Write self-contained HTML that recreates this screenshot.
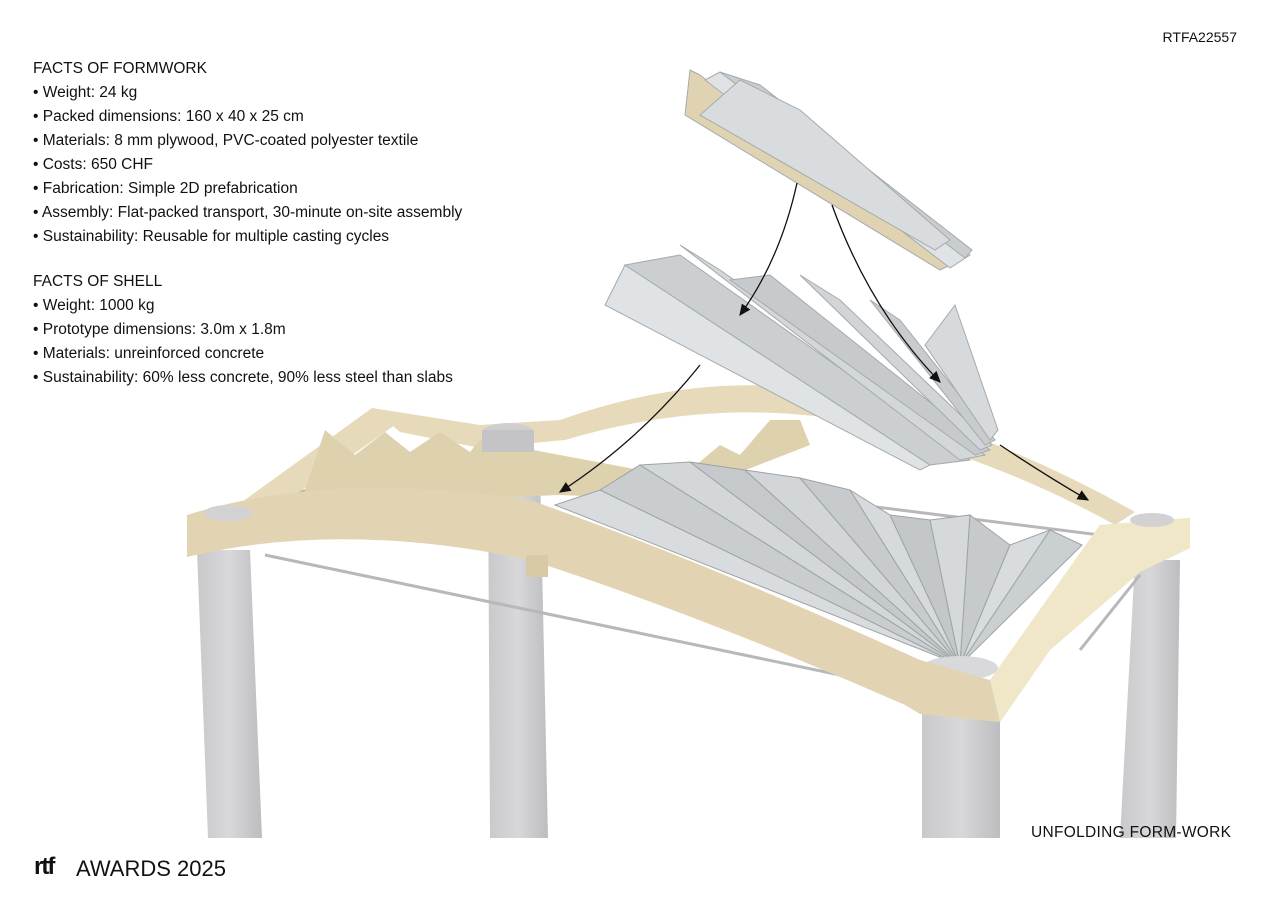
<!DOCTYPE html>
<html><head><meta charset="utf-8"><style>
body{margin:0;width:1273px;height:900px;background:#fff;overflow:hidden;position:relative;font-family:"Liberation Sans",sans-serif;color:#111}
.t{position:absolute;left:33px;font-size:15.5px;line-height:24px}
</style></head><body>
<svg width="1273" height="900" style="position:absolute;left:0;top:0">
<defs>
<linearGradient id="col" x1="0" x2="1"><stop offset="0" stop-color="#c9c9cb"/><stop offset="0.5" stop-color="#d8d8da"/><stop offset="1" stop-color="#bdbdc0"/></linearGradient>
<marker id="ah" markerWidth="10" markerHeight="10" refX="8" refY="5" orient="auto"><path d="M0,1 L9,5 L0,9 z" fill="#111"/></marker>
</defs>
<!-- columns -->
<polygon points="197,550 250,550 262,838 208,838" fill="url(#col)"/>
<polygon points="488,470 540,470 548,838 490,838" fill="url(#col)"/>
<polygon points="922,700 1000,700 1000,838 922,838" fill="url(#col)"/>
<polygon points="1135,560 1180,560 1176,838 1120,838" fill="url(#col)"/>
<!-- rods -->
<g stroke="#b8b8bb" stroke-width="3">
<line x1="265" y1="555" x2="840" y2="675"/><line x1="255" y1="505" x2="430" y2="455"/>
<line x1="820" y1="500" x2="1100" y2="535"/><line x1="1080" y1="650" x2="1140" y2="575"/>
</g>
<!-- left side beam -->
<polygon points="228,512 372,408 405,418 262,518" fill="#e6dabb"/>
<!-- back beam -->
<path d="M372,408 L480,425 L560,420 Q700,370 830,392 Q990,430 1135,512 L1115,525 Q990,455 830,418 Q700,400 565,440 L480,448 L400,432 Z" fill="#e6dabb"/>
<polygon points="300,505 325,430 355,455 385,432 410,452 440,432 470,452 480,440 560,455 640,470 680,500 560,495" fill="#ded1ae"/>
<polygon points="690,470 720,445 740,455 770,420 800,420 810,445 720,480" fill="#ded1ae"/>
<ellipse cx="508" cy="433" rx="26" ry="10" fill="#cfcfd1"/>
<rect x="482" y="430" width="52" height="22" fill="#c4c4c6"/>
<!-- fan shell -->
<g stroke="#9ea3a6" stroke-width="1">
<polygon points="555,505 600,490 960,665" fill="#d8dcde"/>
<polygon points="600,490 640,465 960,665" fill="#c9cdd0"/>
<polygon points="640,465 690,462 960,665" fill="#d3d7d9"/>
<polygon points="690,462 745,470 960,665" fill="#c5c9cc"/>
<polygon points="745,470 800,478 960,665" fill="#d2d6d8"/>
<polygon points="800,478 850,490 960,665" fill="#c7cbce"/>
<polygon points="850,490 890,515 960,665" fill="#d6dadc"/>
<polygon points="890,515 930,520 960,665" fill="#c3c7ca"/>
<polygon points="930,520 970,515 960,665" fill="#d5d9db"/>
<polygon points="970,515 1010,545 960,665" fill="#c6cacd"/>
<polygon points="1010,545 1050,530 960,665" fill="#d9dcde"/>
<polygon points="1050,530 1082,545 960,665" fill="#cacfd1"/>
</g>
<ellipse cx="960" cy="668" rx="38" ry="12" fill="#d9d9db"/>
<!-- front beam -->
<path d="M187,515 Q330,470 530,500 Q700,560 920,660 L990,680 L1100,525 L1190,518 L1190,548 L1140,572 L1050,650 L1000,722 L920,714 L905,705 Q700,615 530,560 Q340,520 187,557 Z" fill="#e2d4b2"/>
<path d="M1100,525 L1190,518 L1190,548 L1140,572 L1050,650 L1000,722 L990,680 Z" fill="#f0e6c8"/>
<ellipse cx="228" cy="513" rx="24" ry="8" fill="#d2d2d4"/>
<ellipse cx="1152" cy="520" rx="22" ry="7" fill="#d2d2d4"/>
<rect x="526" y="555" width="22" height="22" fill="#d8caa6"/>
<!-- middle folded shell -->
<g stroke="#a5aaad" stroke-width="1">
<polygon points="605,305 625,265 930,465 920,470" fill="#dfe3e5"/>
<polygon points="625,265 680,255 970,460 930,465" fill="#cbcfd2"/>
<polygon points="680,245 720,270 985,455 960,460" fill="#d3d7d9"/>
<polygon points="730,280 770,275 990,450 975,455" fill="#c6cacd"/>
<polygon points="800,275 840,300 992,445 980,450" fill="#d1d5d7"/>
<polygon points="870,300 900,320 995,440 985,445" fill="#c8ccce"/>
<polygon points="925,345 955,305 998,430 990,440" fill="#d6dadc"/>
</g>
<!-- top packet -->
<g stroke="#a5aaad" stroke-width="1">
<polygon points="690,70 700,75 950,265 940,270 685,115" fill="#e0d3b2"/>
<polygon points="705,80 720,72 970,255 950,268" fill="#dfe3e5"/>
<polygon points="720,72 760,85 972,250 965,258" fill="#c9cdd0"/>
<polygon points="740,80 800,110 950,240 935,250 700,115" fill="#d8dcde"/>
</g>
<!-- arrows -->
<g fill="none" stroke="#111" stroke-width="1.3" marker-end="url(#ah)">
<path d="M797,183 Q780,260 740,315"/>
<path d="M832,205 Q870,310 940,382"/>
<path d="M700,365 Q640,440 560,492"/>
<path d="M1000,445 Q1045,475 1088,500"/>
</g>
</svg>
<div style="position:absolute;right:36px;top:29px;font-size:14px">RTFA22557</div>
<div class="t" style="top:57px">FACTS OF FORMWORK<br>• Weight: 24 kg<br>• Packed dimensions: 160 x 40 x 25 cm<br>• Materials: 8 mm plywood, PVC-coated polyester textile<br>• Costs: 650 CHF<br>• Fabrication: Simple 2D prefabrication<br>• Assembly: Flat-packed transport, 30-minute on-site assembly<br>• Sustainability: Reusable for multiple casting cycles</div>
<div class="t" style="top:270px">FACTS OF SHELL<br>• Weight: 1000 kg<br>• Prototype dimensions: 3.0m x 1.8m<br>• Materials: unreinforced concrete<br>• Sustainability: 60% less concrete, 90% less steel than slabs</div>
<div style="position:absolute;left:1031px;top:824px;font-size:15.5px;letter-spacing:0.3px">UNFOLDING FORM-WORK</div>
<div style="position:absolute;left:34px;top:853px;font-size:24px;font-weight:bold;letter-spacing:-2px">rtf</div>
<div style="position:absolute;left:76px;top:856px;font-size:22px">AWARDS 2025</div>
</body></html>
